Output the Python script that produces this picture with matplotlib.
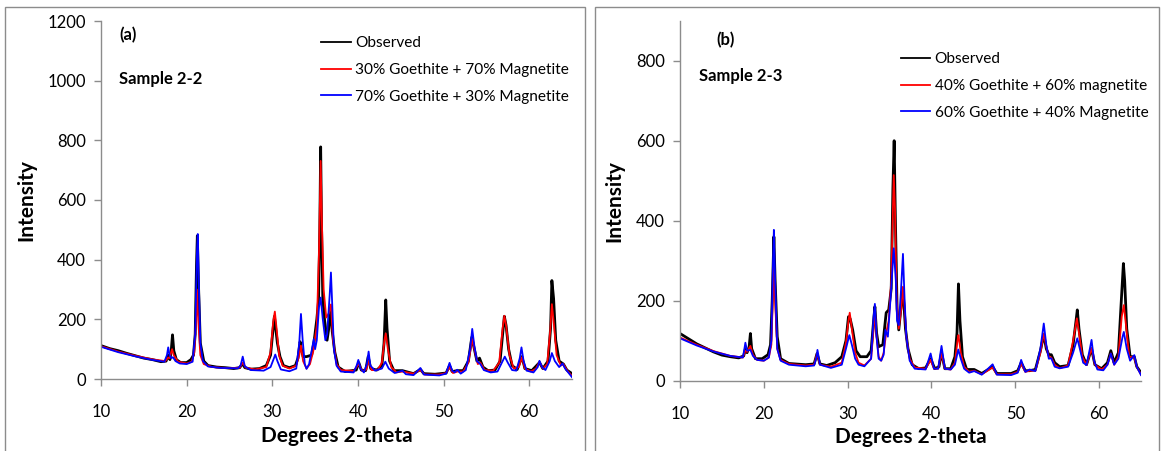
import matplotlib
matplotlib.use("Agg")
import matplotlib.pyplot as plt
from matplotlib.patches import Rectangle

# 字体: 接近 Excel 里的 Calibri
plt.rcParams['font.family'] = ['Lato', 'DejaVu Sans']

# ---------------- (a) Sample 2-2 ----------------
a_obs_x = [10.0, 11.0, 12.0, 13.0, 14.0, 15.0, 16.0, 17.0, 17.6, 17.85, 18.05, 18.2, 18.35, 18.5, 18.8,
           19.3, 20.0, 20.5, 20.8, 21.0, 21.15, 21.25, 21.4, 21.6, 22.0, 22.5, 23.5, 24.5, 25.5, 26.2,
           26.5, 26.8, 27.5, 28.5, 29.3, 29.8, 30.1, 30.25, 30.4, 30.6, 30.9, 31.3, 32.0, 32.7, 33.0,
           33.25, 33.4, 33.6, 34.0, 34.6, 34.9, 35.2, 35.4, 35.55, 35.65, 35.75, 35.9, 36.1, 36.4, 36.6,
           36.85, 37.0, 37.3, 37.7, 38.5, 39.3, 39.8, 40.1, 40.4, 40.9, 41.2, 41.5, 42.2, 42.8, 43.05,
           43.25, 43.4, 43.7, 44.2, 45.2, 46.5, 47.3, 47.7, 49.0, 50.3, 50.7, 51.0, 51.6, 52.3, 52.9,
           53.3, 53.6, 53.9, 54.2, 54.6, 55.2, 56.0, 56.6, 56.9, 57.1, 57.3, 57.6, 58.0, 58.6, 59.15,
           59.5, 60.3, 61.2, 61.6, 62.2, 62.5, 62.65, 62.85, 63.1, 63.5, 64.0, 64.4, 65.0]
a_obs_y = [112, 102, 95, 86, 78, 70, 65, 58, 60, 80, 65, 95, 148, 95, 65,
           55, 55, 65, 80, 150, 380, 480, 300, 120, 60, 45, 40, 38, 35, 38,
           52, 38, 33, 35, 45, 80, 170, 210, 170, 120, 75, 45, 38, 45, 70,
           125, 100, 75, 75, 80, 130, 200, 262, 500, 778, 520, 270, 200, 130, 170,
           240, 160, 90, 40, 25, 28, 30, 55, 30, 28, 75, 35, 30, 45, 120,
           265, 170, 60, 28, 28, 18, 32, 18, 16, 20, 45, 25, 28, 28, 60,
           140, 100, 60, 70, 40, 28, 30, 60, 150, 210, 180, 100, 45, 32, 75,
           35, 28, 55, 35, 60, 170, 330, 270, 130, 60, 50, 30, 18]

a_red_x = [10.0, 12.0, 14.0, 16.0, 17.5, 17.85, 18.0, 18.3, 18.5, 19.0, 20.0, 20.6, 20.9, 21.1, 21.2,
           21.35, 21.6, 22.0, 23.0, 25.0, 26.2, 26.55, 26.9, 28.0, 29.3, 29.8, 30.1, 30.3, 30.5, 30.8,
           31.2, 32.0, 32.8, 33.15, 33.35, 33.6, 34.0, 34.4, 34.8, 35.2, 35.45, 35.65, 35.8, 36.0, 36.3,
           36.6, 36.85, 37.1, 37.5, 38.0, 39.5, 40.1, 40.5, 41.0, 41.25, 41.6, 42.3, 42.8, 43.1, 43.25,
           43.5, 43.9, 44.5, 45.2, 46.5, 47.3, 47.8, 49.5, 50.3, 50.7, 51.1, 51.6, 52.3, 52.9, 53.35,
           53.6, 54.0, 54.3, 54.8, 55.8, 56.5, 56.9, 57.1, 57.3, 57.7, 58.2, 58.8, 59.15, 59.5, 60.2,
           60.8, 61.2, 61.6, 62.1, 62.45, 62.65, 62.9, 63.2, 63.7, 64.0, 64.4, 65.0]
a_red_y = [110, 92, 78, 66, 60, 72, 70, 100, 80, 58, 52, 58, 90, 200, 300,
           200, 80, 50, 40, 36, 38, 55, 38, 32, 40, 90, 190, 226, 170, 80,
           45, 35, 45, 80, 112, 60, 35, 50, 95, 180, 420, 731, 520, 300, 206,
           220, 250, 130, 50, 30, 27, 50, 27, 32, 62, 30, 30, 55, 130, 153,
           100, 40, 22, 25, 18, 30, 15, 15, 20, 40, 20, 25, 25, 55, 134,
           100, 50, 55, 30, 28, 55, 170, 212, 180, 80, 35, 40, 73, 35, 25,
           35, 58, 35, 50, 160, 251, 180, 80, 45, 50, 30, 10]

a_blue_x = [10.0, 12.0, 14.0, 16.0, 17.4, 17.7, 17.85, 18.0, 18.2, 18.4, 18.7, 19.2, 20.0, 20.7, 21.0,
            21.2, 21.3, 21.4, 21.6, 21.9, 22.5, 24.0, 26.0, 26.3, 26.55, 26.8, 27.5, 29.0, 29.8, 30.2,
            30.35, 30.6, 31.0, 32.0, 32.8, 33.15, 33.35, 33.55, 33.8, 34.0, 34.3, 34.7, 34.85, 35.0, 35.2,
            35.45, 35.65, 35.9, 36.2, 36.4, 36.7, 36.85, 37.0, 37.2, 37.5, 38.0, 39.5, 39.85, 40.05, 40.3,
            40.7, 41.05, 41.25, 41.45, 42.0, 42.8, 43.2, 43.6, 44.3, 45.2, 45.6, 46.5, 47.3, 47.7, 49.5,
            50.3, 50.7, 51.0, 51.3, 51.6, 52.0, 52.6, 53.1, 53.35, 53.6, 53.9, 54.3, 54.7, 55.5, 56.3,
            56.9, 57.15, 57.5, 58.0, 58.5, 58.9, 59.1, 59.35, 59.7, 60.5, 61.0, 61.2, 61.5, 61.9, 62.4,
            62.65, 63.0, 63.5, 63.9, 64.2, 65.0]
a_blue_y = [108, 90, 76, 64, 58, 80, 106, 80, 70, 73, 60, 52, 50, 58, 150,
            420, 486, 350, 120, 60, 42, 37, 36, 45, 75, 42, 30, 28, 40, 70,
            82, 60, 32, 26, 35, 120, 218, 130, 50, 34, 50, 110, 134, 100, 130,
            240, 273, 200, 130, 150, 280, 357, 250, 100, 45, 25, 22, 45, 64, 35,
            22, 50, 92, 45, 28, 35, 58, 35, 20, 28, 16, 13, 37, 15, 12,
            18, 54, 28, 22, 31, 18, 30, 100, 168, 110, 60, 50, 30, 22, 25,
            60, 75, 55, 30, 28, 70, 106, 60, 28, 22, 40, 61, 40, 30, 60,
            87, 60, 40, 52, 35, 6]

# ---------------- (b) Sample 2-3 ----------------
b_obs_x = [10.0, 11.0, 12.0, 13.0, 14.0, 15.0, 16.0, 17.0, 17.6, 17.8, 18.0, 18.25, 18.4, 18.55, 19.0,
           19.8, 20.5, 20.8, 21.0, 21.2, 21.35, 21.6, 22.0, 23.0, 25.0, 26.0, 26.35, 26.7, 27.5, 28.5,
           29.3, 29.8, 30.1, 30.3, 30.6, 31.0, 31.5, 32.3, 32.8, 33.1, 33.25, 33.45, 33.7, 34.2, 34.6,
           34.9, 35.2, 35.4, 35.55, 35.7, 35.9, 36.1, 36.35, 36.6, 36.9, 37.2, 37.7, 38.5, 39.3, 39.9,
           40.4, 40.9, 41.2, 41.6, 42.3, 42.8, 43.05, 43.22, 43.4, 43.7, 44.2, 45.1, 46.0, 47.3, 47.8,
           49.5, 50.3, 50.7, 51.2, 51.7, 52.4, 53.0, 53.4, 53.7, 54.0, 54.3, 54.7, 55.3, 56.3, 56.9,
           57.25, 57.4, 57.6, 58.0, 58.5, 59.1, 59.5, 60.3, 61.0, 61.4, 61.8, 62.3, 62.65, 62.9, 63.05,
           63.3, 63.7, 64.2, 64.5, 65.0]
b_obs_y = [118, 105, 92, 82, 72, 64, 60, 57, 62, 80, 70, 85, 118, 80, 55,
           55, 65, 90, 200, 360, 250, 110, 55, 43, 40, 42, 68, 42, 38, 45,
           60, 100, 160, 155, 127, 75, 60, 60, 75, 150, 185, 120, 85, 90, 170,
           177, 230, 480, 600, 400, 180, 127, 180, 230, 130, 80, 40, 30, 32, 55,
           30, 35, 70, 30, 30, 60, 120, 242, 150, 60, 28, 28, 18, 35, 18,
           18, 25, 45, 25, 25, 28, 75, 115, 80, 65, 65, 45, 35, 38, 90,
           150, 177, 130, 65, 40, 80, 40, 30, 45, 75, 45, 70, 200, 293, 250,
           130, 60, 60, 35, 20]

b_red_x = [10.0, 12.0, 14.0, 16.0, 17.5, 17.8, 18.0, 18.4, 18.7, 19.2, 20.0, 20.6, 20.9, 21.1, 21.2,
           21.35, 21.6, 22.0, 23.0, 25.0, 26.0, 26.35, 26.7, 28.0, 29.3, 29.8, 30.1, 30.25, 30.5, 30.9,
           31.3, 32.0, 32.8, 33.1, 33.25, 33.45, 33.7, 34.0, 34.3, 34.6, 34.9, 35.2, 35.5, 35.65, 35.85,
           36.1, 36.4, 36.6, 36.8, 37.0, 37.4, 38.0, 39.3, 39.9, 40.3, 40.8, 41.2, 41.6, 42.3, 42.8,
           43.1, 43.22, 43.5, 43.9, 44.5, 45.1, 46.0, 47.3, 47.8, 49.5, 50.3, 50.7, 51.2, 51.7, 52.4,
           53.0, 53.4, 53.7, 54.0, 54.3, 54.7, 55.3, 56.3, 56.9, 57.35, 57.6, 58.0, 58.5, 59.1, 59.5,
           60.3, 61.0, 61.4, 61.8, 62.3, 62.7, 62.95, 63.2, 63.6, 64.2, 64.5, 65.0]
b_red_y = [108, 90, 74, 62, 58, 75, 72, 87, 65, 52, 50, 58, 90, 220, 293,
           200, 80, 52, 42, 38, 40, 68, 40, 35, 45, 95, 150, 170, 130, 70,
           45, 38, 55, 130, 177, 110, 60, 50, 70, 120, 150, 250, 514, 430, 200,
           130, 180, 235, 180, 110, 55, 33, 30, 52, 30, 30, 68, 30, 28, 45,
           100, 114, 70, 35, 22, 25, 16, 33, 16, 16, 22, 43, 22, 25, 25,
           70, 118, 85, 60, 58, 40, 31, 38, 100, 156, 120, 60, 39, 81, 40,
           28, 40, 68, 40, 60, 160, 189, 140, 60, 58, 35, 15]

b_blue_x = [10.0, 12.0, 14.0, 16.0, 17.5, 17.65, 17.8, 18.0, 18.4, 18.7, 19.2, 20.0, 20.6, 20.9, 21.1,
            21.2, 21.35, 21.6, 22.0, 23.0, 25.0, 26.0, 26.3, 26.4, 26.7, 28.0, 29.3, 29.8, 30.2, 30.5,
            30.9, 31.3, 32.0, 32.8, 33.1, 33.25, 33.45, 33.7, 34.0, 34.3, 34.5, 34.8, 35.1, 35.5, 35.75,
            35.9, 36.1, 36.35, 36.6, 36.8, 37.0, 37.4, 38.0, 39.3, 39.9, 40.3, 40.8, 41.2, 41.6, 42.3,
            42.8, 43.2, 43.5, 43.9, 44.5, 45.1, 46.0, 47.3, 47.8, 49.5, 50.3, 50.7, 51.2, 51.7, 52.4,
            53.0, 53.4, 53.7, 54.0, 54.3, 54.7, 55.3, 56.3, 56.9, 57.4, 57.7, 58.1, 58.5, 58.9, 59.1,
            59.4, 59.8, 60.5, 61.0, 61.4, 61.8, 62.3, 62.8, 62.95, 63.3, 63.7, 64.2, 64.5, 65.0]
b_blue_y = [106, 88, 73, 62, 58, 75, 95, 75, 77, 62, 52, 50, 58, 100, 300,
            377, 250, 80, 50, 40, 36, 38, 60, 77, 40, 32, 40, 80, 114, 90,
            55, 40, 36, 55, 160, 192, 110, 55, 50, 65, 127, 110, 200, 331, 250,
            150, 139, 220, 317, 200, 110, 50, 30, 28, 68, 30, 30, 87, 30, 28,
            40, 78, 55, 30, 20, 24, 15, 41, 15, 14, 20, 52, 22, 28, 24,
            80, 143, 90, 55, 56, 35, 31, 35, 70, 106, 80, 45, 39, 80, 102,
            50, 28, 26, 40, 68, 40, 55, 110, 122, 80, 50, 64, 35, 14]

labels_a = ['Observed', '30% Goethite + 70% Magnetite', '70% Goethite + 30% Magnetite']
labels_b = ['Observed', '40% Goethite + 60% magnetite', '60% Goethite + 40% Magnetite']

W, H = 1162, 451
fig = plt.figure(figsize=(W / 100, H / 100), dpi=100)

# 两个图各自的灰色外框
fig.patches.append(Rectangle((5 / W, -0.05), 580 / W, (H - 7) / H + 0.05, transform=fig.transFigure,
                             fill=False, edgecolor='#8c8c8c', lw=1.0))
fig.patches.append(Rectangle((595 / W, -0.05), 564 / W, (H - 7) / H + 0.05, transform=fig.transFigure,
                             fill=False, edgecolor='#8c8c8c', lw=1.0))

ax_a = fig.add_axes([101 / W, (H - 379) / H, 471 / W, 358 / H])
ax_b = fig.add_axes([680 / W, (H - 380.7) / H, 461 / W, 360 / H])


def style_axis(ax, ymax, yticks):
    ax.set_xlim(10, 65)
    ax.set_ylim(0, ymax)
    ax.set_xticks([10, 20, 30, 40, 50, 60])
    ax.set_yticks(yticks)
    for s in ['top', 'right']:
        ax.spines[s].set_visible(False)
    for s in ['left', 'bottom']:
        ax.spines[s].set_color('#8c8c8c')
        ax.spines[s].set_linewidth(1.0)
    ax.tick_params(direction='out', length=5, width=1, color='#8c8c8c', labelsize=12)
    ax.tick_params(axis='x', pad=13)
    ax.tick_params(axis='y', pad=6)
    ax.set_xlabel('Degrees 2-theta', fontsize=15, fontweight='bold', labelpad=4)
    ax.set_ylabel('Intensity', fontsize=15, fontweight='bold', labelpad=8)


def draw(ax, ox, oy, rx, ry, bx, by, labels):
    h1, = ax.plot(ox, oy, color='black', lw=2.0, label=labels[0])
    h2, = ax.plot(rx, ry, color='#ff0000', lw=1.3, label=labels[1])
    h3, = ax.plot(bx, by, color='#0000ff', lw=1.3, label=labels[2])
    return [h1, h2, h3]


def add_legend(ax, hs, labels, anchor):
    leg = ax.legend(hs, labels, loc='upper left', bbox_to_anchor=anchor, frameon=False,
                    fontsize=11.1, handlelength=1.9, handletextpad=0.3, labelspacing=0.82,
                    borderpad=0, borderaxespad=0)
    for ln in leg.get_lines():
        ln.set_linewidth(1.3)


hs = draw(ax_a, a_obs_x, a_obs_y, a_red_x, a_red_y, a_blue_x, a_blue_y, labels_a)
style_axis(ax_a, 1200, [0, 200, 400, 600, 800, 1000, 1200])
add_legend(ax_a, hs, labels_a, (0.468, 0.957))
ax_a.text(12.1, 1153, '(a)', fontsize=12, fontweight='bold', va='center')
ax_a.text(12.1, 1005, 'Sample 2-2', fontsize=12, fontweight='bold', va='center')

hs = draw(ax_b, b_obs_x, b_obs_y, b_red_x, b_red_y, b_blue_x, b_blue_y, labels_b)
style_axis(ax_b, 900, [0, 200, 400, 600, 800])
add_legend(ax_b, hs, labels_b, (0.479, 0.912))
ax_b.text(14.3, 852, '(b)', fontsize=12, fontweight='bold', va='center')
ax_b.text(12.3, 762, 'Sample 2-3', fontsize=12, fontweight='bold', va='center')

fig.savefig('out.png', dpi=100)
